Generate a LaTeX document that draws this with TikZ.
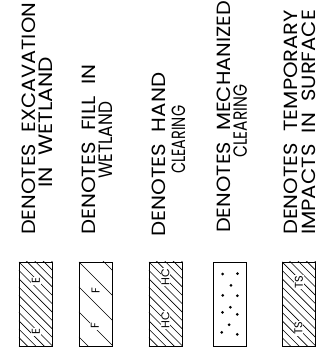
\documentclass[tikz,border=0pt]{standalone}
\usepackage{fontspec}
\setmainfont{Poppins}
\usepackage{graphicx}
\usepackage{tikz}
\usetikzlibrary{calc}

% one lettered line, stretched to the length it has on the sheet
\newcommand{\legline}[2]{\resizebox{#1}{13.5pt}{#2}}
\newcommand{\tagline}[1]{\resizebox{!}{8pt}{#1}}

\tikzset{
	legbox/.style={draw, line width=0.9pt, minimum width=33pt, minimum height=83.7pt, inner sep=0pt},
	legtext/.style={rotate=90, anchor=base west, inner sep=0pt},
	hatch/.style={line width=0.6pt},
	tag/.style={rotate=90, fill=white, inner sep=0.8pt},
}

\begin{document}
\begin{tikzpicture}[x=1pt,y=-1pt]
		\useasboundingbox (0,0) rectangle (327,360);

		% Legend texts (read bottom to top)
		\node[legtext] (exca) at (35,235) {\legline{232pt}{DENOTES\ \ EXCAVATION}};
		\node[legtext] (excb) at (52.5,188) {\legline{131pt}{IN\ \ WETLAND}};
		\node[legtext] (filla) at (95,235) {\legline{170pt}{DENOTES\ \ FILL\ \ IN}};
		\node[legtext] (fillb) at (112,179) {\legline{77pt}{WETLAND}};
		\node[legtext] (handa) at (165.5,237) {\legline{164pt}{DENOTES\ \ HAND}};
		\node[legtext] (handb) at (185,174) {\legline{68pt}{CLEARING}};
		\node[legtext] (mecha) at (230,233) {\legline{232pt}{DENOTES\ \ MECHANIZED}};
		\node[legtext] (mechb) at (247,158) {\legline{73pt}{CLEARING}};
		\node[legtext] (tempa) at (297.5,235) {\legline{225pt}{DENOTES\ \ TEMPORARY}};
		\node[legtext] (tempb) at (316,235) {\legline{225pt}{IMPACTS\ \ IN\ \ SURFACE}};

		% Symbol boxes
		\node[legbox] (exc) at (35.8,304.2) {};
		\node[legbox] (fill) at (95.8,304.2) {};
		\node[legbox] (hand) at (165.8,304.2) {};
		\node[legbox] (mech) at (230,304.2) {};
		\node[legbox] (temp) at (299,304.2) {};

		% Hatching
		\foreach \b/\s/\n in {exc/8.4/10, fill/25/4, hand/8.4/10, temp/8.4/10} {
			\begin{scope}
				\clip (\b.north west) rectangle (\b.south east);
				\foreach \k in {-4,...,\n}
					\draw[hatch] ($(\b.north west)+(0,\k*\s)$) -- ++(40,40);
			\end{scope}
		}

		% Dots
		\foreach \p in {(222.7,274),(237.5,273.7),(231,285.3),(222.7,295.3),(237.3,295.7),(230.4,307.3),(222.5,312.3),(237.3,314.3),(229.2,324.7),(221.7,332.3),(237.3,334.3)}
			\fill \p circle (1.5);

		% Letter tags
		\node[tag] (e1) at (35.8,281) {\tagline{E}};
		\node[tag] (e2) at (35.8,332) {\tagline{E}};
		\node[tag] (f1) at (95.5,291) {\tagline{F}};
		\node[tag] (f2) at (94.8,326) {\tagline{F}};
		\node[tag] (hc1) at (165.5,277) {\tagline{HC}};
		\node[tag] (hc2) at (165.5,320) {\tagline{HC}};
		\node[tag] (ts1) at (299,282) {\tagline{TS}};
		\node[tag] (ts2) at (298.5,328.5) {\tagline{TS}};
	\end{tikzpicture}
\end{document}
